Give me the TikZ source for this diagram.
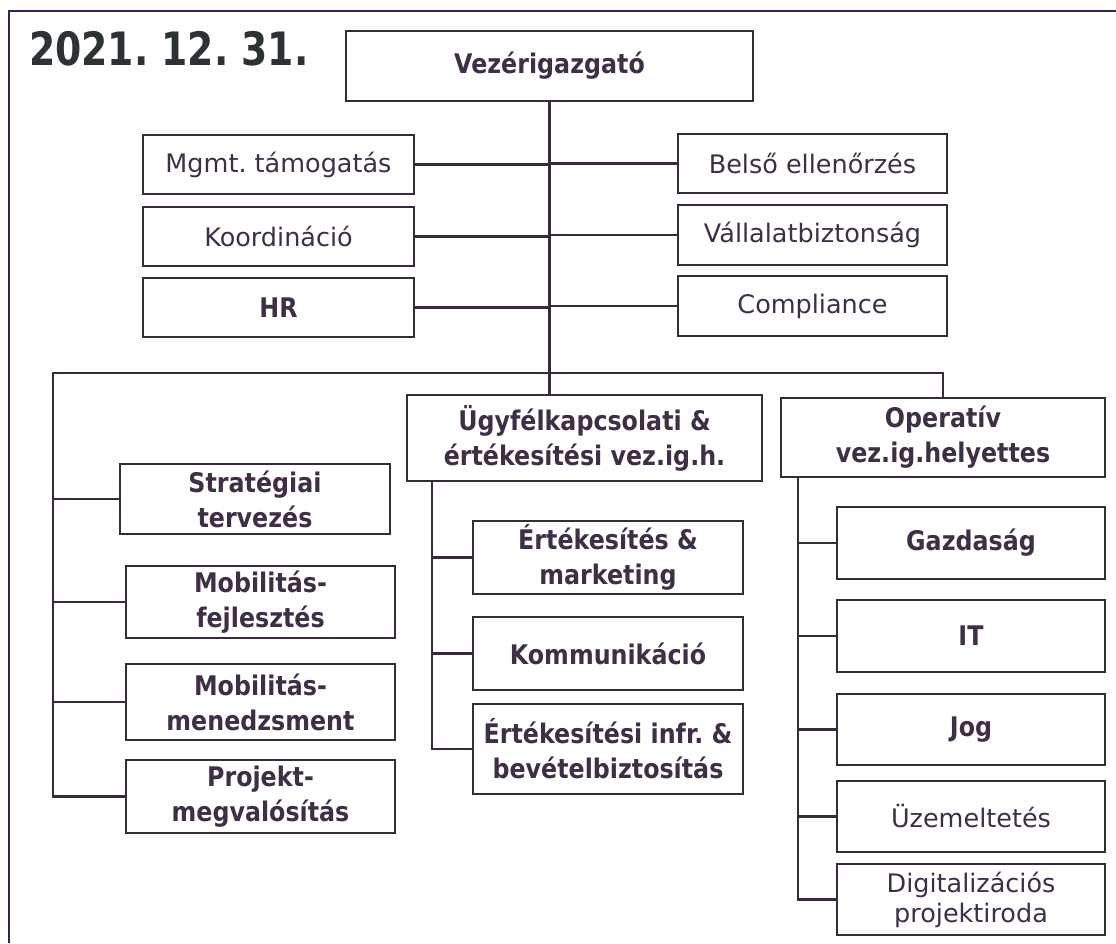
\documentclass[tikz,border=0pt]{standalone}
\usepackage{fontspec}
\setmainfont{DejaVu Sans}
\newfontfamily\narrowfont{DejaVu Sans}[FakeStretch=0.88]
\newfontfamily\titlefont{DejaVu Sans}[FakeStretch=0.82]
\definecolor{lc}{RGB}{55,42,58}
\definecolor{tc}{RGB}{62,46,70}
\definecolor{framec}{RGB}{40,40,85}
\definecolor{titlec}{RGB}{45,50,52}
\frenchspacing
\begin{document}
\begin{tikzpicture}[x=1pt,y=-1pt,
  box/.style={draw=lc, line width=2.5pt, inner sep=0pt, align=center, text=tc, fill=white},
  reg/.style={box, font=\fontsize{25.5}{30}\selectfont},
  bld/.style={box, font=\narrowfont\bfseries\fontsize{27}{35}\selectfont},
  conn/.style={draw=lc, line width=2.2pt},
  frameline/.style={draw=framec, line width=2.8pt},
]
\fill[white] (0,0) rectangle (1116,943);
\useasboundingbox (0,0) rectangle (1116,943);
\draw[frameline] (9,943) -- (9,11) -- (1116,11);
\node[anchor=base west, text=titlec, inner sep=0pt, font=\titlefont\bfseries\fontsize{46}{46}\selectfont] (title) at (29,65) {2021. 12. 31.};

% top
\node[bld, minimum width=407pt, minimum height=70pt] (vez) at (549.5,66) {Vezérigazgató};
\node[reg, minimum width=271pt, minimum height=59pt] (mgmt) at (278.5,164.5) {Mgmt. támogatás};
\node[reg, minimum width=271pt, minimum height=59pt] (koord) at (278.5,236.5) {Koordináció};
\node[bld, minimum width=271pt, minimum height=59pt] (hr) at (278.5,307.5) {HR};
\node[reg, minimum width=269pt, minimum height=59pt] (belso) at (812.5,163.5) {Belső ellenőrzés};
\node[reg, minimum width=269pt, minimum height=60pt] (vall) at (812.5,235) {Vállalatbiztonság};
\node[reg, minimum width=269pt, minimum height=60pt] (comp) at (812.5,306) {Compliance};

% second level
\node[bld, minimum width=355pt, minimum height=86pt] (ugy) at (584.5,438) {Ügyfélkapcsolati \&\\értékesítési vez.ig.h.};
\node[bld, minimum width=324pt, minimum height=79pt] (oper) at (943,437.5) {Operatív\\vez.ig.helyettes};

% left column
\node[bld, minimum width=270pt, minimum height=70pt] (strat) at (255,499) {Stratégiai\\tervezés};
\node[bld, minimum width=269pt, minimum height=72pt] (mobf) at (260.5,602) {Mobilitás-\\fejlesztés};
\node[bld, minimum width=269pt, minimum height=76pt] (mobm) at (260.5,702) {Mobilitás-\\menedzsment};
\node[bld, minimum width=269pt, minimum height=73pt] (proj) at (260.5,796.5) {Projekt-\\megvalósítás};

% middle column
\node[bld, minimum width=270pt, minimum height=73pt] (ertm) at (608,557.5) {Értékesítés \&\\marketing};
\node[bld, minimum width=270pt, minimum height=73pt] (komm) at (608,653.5) {Kommunikáció};
\node[bld, minimum width=270pt, minimum height=90pt] (erti) at (608,749) {Értékesítési infr. \&\\bevételbiztosítás};

% right column
\node[bld, minimum width=268pt, minimum height=72pt] (gazd) at (971,543) {Gazdaság};
\node[bld, minimum width=268pt, minimum height=72pt] (it) at (971,636) {IT};
\node[bld, minimum width=268pt, minimum height=71pt] (jog) at (971,729.5) {Jog};
\node[reg, minimum width=268pt, minimum height=71pt] (uzem) at (971,816.5) {Üzemeltetés};
\node[reg, minimum width=268pt, minimum height=71pt] (digit) at (971,899.5) {Digitalizációs\\projektiroda};

% connectors
\draw[conn] (vez.south) -- (vez.south |- ugy.north);
\foreach \n in {mgmt,koord,hr} \draw[conn] (\n.east) -- (\n.east -| vez.south);
\foreach \n in {belso,vall,comp} \draw[conn] (\n.west) -- (\n.west -| vez.south);

\coordinate (busL) at (53,373);
\draw[conn] (oper.north) |- (busL) |- (proj.west);
\foreach \n in {strat,mobf,mobm} \draw[conn] (\n.west) -- (\n.west -| busL);

\coordinate (ux) at (432,0);
\draw[conn] (ugy.south -| ux) |- (erti.west);
\foreach \n in {ertm,komm} \draw[conn] (\n.west) -- (\n.west -| ux);

\coordinate (ox) at (798,0);
\draw[conn] (oper.south -| ox) |- (digit.west);
\foreach \n in {gazd,it,jog,uzem} \draw[conn] (\n.west) -- (\n.west -| ox);
\end{tikzpicture}
\end{document}
